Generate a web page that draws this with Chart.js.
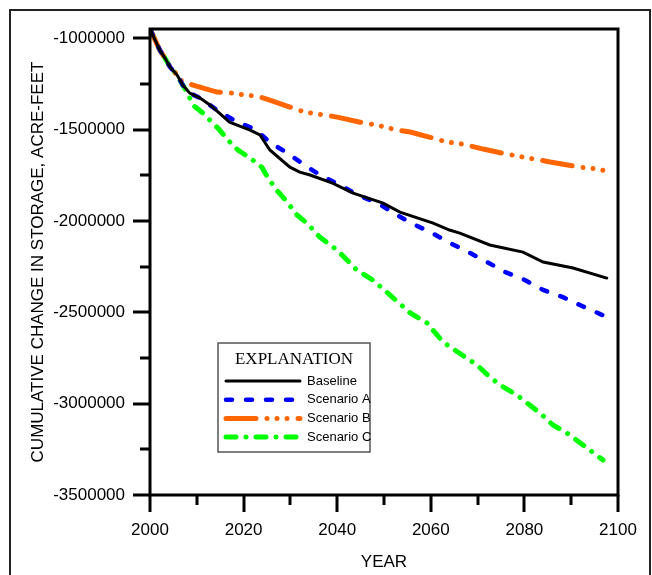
<!DOCTYPE html>
<html>
<head>
<meta charset="utf-8">
<script src="https://cdn.jsdelivr.net/npm/chart.js@4.4.1/dist/chart.umd.min.js"></script>
<style>
    html, body { margin: 0; padding: 0; background: #fff; }
    #wrap { width: 652px; height: 575px; }
</style>
</head>
<body>
<div id="wrap"><canvas id="chart" width="652" height="575"></canvas></div>
<script>
// Values (year, acre-feet)
const baselineYears = [2000, 2001.1, 2002.1, 2003.2, 2004.3, 2005.8, 2007, 2008.5, 2010.7, 2012.8, 2013.5, 2015, 2017, 2021.4, 2023.5, 2025.6, 2029.9, 2032, 2034.2, 2039, 2043.4, 2049.8, 2053.4, 2060.5, 2064, 2066.2, 2072.6, 2079.7, 2084, 2090.4, 2097.6];
const baselineValues = [-950000, -1011000, -1066000, -1109000, -1159000, -1202000, -1257000, -1301000, -1328000, -1366000, -1380000, -1415000, -1460000, -1503000, -1530000, -1612000, -1706000, -1733000, -1749000, -1793000, -1848000, -1903000, -1952000, -2012000, -2050000, -2067000, -2132000, -2171000, -2225000, -2258000, -2313000];

const scenarioAYears = [2000, 2001.1, 2002.1, 2003.2, 2004.3, 2005.8, 2007, 2008.5, 2010.7, 2014.3, 2018.6, 2022.4, 2025.6, 2029.3, 2033.1, 2036.3, 2040.6, 2044.4, 2048.7, 2052.4, 2056.2, 2060.3, 2064.1, 2068.4, 2072, 2075.9, 2080.1, 2084, 2088.2, 2092.3, 2096.2, 2097.6];
const scenarioAValues = [-950000, -1011000, -1066000, -1109000, -1159000, -1202000, -1257000, -1301000, -1328000, -1394000, -1459000, -1498000, -1569000, -1629000, -1695000, -1749000, -1804000, -1859000, -1903000, -1963000, -2017000, -2067000, -2121000, -2176000, -2225000, -2280000, -2324000, -2378000, -2417000, -2466000, -2510000, -2526000];

const scenarioBYears = [2000, 2001.1, 2002.1, 2003.2, 2004.3, 2005.8, 2006.4, 2009.2, 2014.3, 2017.7, 2020.3, 2022.9, 2025.6, 2029.9, 2033.1, 2037.4, 2040, 2044.9, 2048.5, 2052.8, 2055.6, 2060.5, 2063.5, 2065.6, 2067.7, 2071.2, 2076.3, 2080.8, 2083.3, 2085.5, 2091.9, 2094, 2096.6, 2097.6];
const scenarioBValues = [-950000, -1011000, -1066000, -1109000, -1159000, -1202000, -1230000, -1257000, -1295000, -1301000, -1312000, -1317000, -1339000, -1377000, -1405000, -1421000, -1432000, -1460000, -1476000, -1503000, -1514000, -1547000, -1569000, -1574000, -1585000, -1607000, -1635000, -1656000, -1667000, -1678000, -1706000, -1711000, -1722000, -1727000];

const scenarioCYears = [2000, 2001.1, 2002.1, 2003.2, 2004.3, 2005.8, 2007, 2007.9, 2009.2, 2011.3, 2014.5, 2016.7, 2018.8, 2021.4, 2023.9, 2024.6, 2026.7, 2029.3, 2031.4, 2033.5, 2036.3, 2040, 2044.2, 2047.6, 2051.3, 2055.6, 2059.2, 2062.6, 2066.7, 2069.9, 2072.6, 2074.8, 2078.4, 2083.3, 2086.1, 2089.1, 2093.4, 2096.8];
const scenarioCValues = [-950000, -1011000, -1066000, -1109000, -1159000, -1202000, -1257000, -1295000, -1367000, -1410000, -1492000, -1558000, -1613000, -1656000, -1706000, -1738000, -1821000, -1897000, -1968000, -2012000, -2089000, -2160000, -2269000, -2324000, -2406000, -2504000, -2559000, -2663000, -2734000, -2789000, -2854000, -2898000, -2953000, -3051000, -3117000, -3161000, -3243000, -3309000];

const xMajorTicks = [2000, 2020, 2040, 2060, 2080, 2100];
const xMinorTicks = [2010, 2030, 2050, 2070, 2090];
const yMajorTicks = [-1000000, -1500000, -2000000, -2500000, -3000000, -3500000];
const yMinorTicks = [-1250000, -1750000, -2250000, -2750000, -3250000];

const legendTitle = 'EXPLANATION';

function points(xs, ys) {
    return xs.map((x, i) => ({ x, y: ys[i] }));
}

const FONT = 'Liberation Sans, Arial, sans-serif';

const framePlugin = {
    id: 'frame',
    afterDraw(chart) {
        const { ctx, chartArea: a } = chart;
        const xs = chart.scales.x;
        const ys = chart.scales.y;
        ctx.save();

        // outer figure border
        ctx.strokeStyle = '#222';
        ctx.lineWidth = 2;
        ctx.strokeRect(10, 10, 640, 580);

        // plot frame
        ctx.strokeStyle = '#000';
        ctx.lineWidth = 3;
        ctx.strokeRect(a.left, a.top, a.right - a.left, a.bottom - a.top);

        // tick marks, outward
        ctx.beginPath();
        yMajorTicks.forEach((v) => {
            const p = Math.round(ys.getPixelForValue(v));
            ctx.moveTo(a.left - 17, p);
            ctx.lineTo(a.left, p);
        });
        yMinorTicks.forEach((v) => {
            const p = Math.round(ys.getPixelForValue(v));
            ctx.moveTo(a.left - 10, p);
            ctx.lineTo(a.left, p);
        });
        xMajorTicks.forEach((v) => {
            const p = Math.round(xs.getPixelForValue(v));
            ctx.moveTo(p, a.bottom);
            ctx.lineTo(p, a.bottom + 17);
        });
        xMinorTicks.forEach((v) => {
            const p = Math.round(xs.getPixelForValue(v));
            ctx.moveTo(p, a.bottom);
            ctx.lineTo(p, a.bottom + 10);
        });
        ctx.stroke();

        // legend box
        const bx = 218, by = 343, bw = 152, bh = 109;
        ctx.fillStyle = '#fff';
        ctx.fillRect(bx, by, bw, bh);
        ctx.strokeStyle = '#555';
        ctx.lineWidth = 1.5;
        ctx.strokeRect(bx, by, bw, bh);

        ctx.fillStyle = '#000';
        ctx.font = '17px "Liberation Serif", "Times New Roman", serif';
        ctx.textAlign = 'center';
        ctx.textBaseline = 'middle';
        ctx.fillText(legendTitle, bx + bw / 2, by + 17);

        ctx.font = '13px ' + FONT;
        ctx.textAlign = 'left';
        chart.data.datasets.forEach((ds, i) => {
            const y = by + 38 + i * 18.7;
            ctx.save();
            ctx.strokeStyle = ds.borderColor;
            ctx.lineWidth = ds.borderWidth;
            ctx.lineCap = ds.borderCapStyle || 'butt';
            ctx.setLineDash(ds.borderDash || []);
            ctx.beginPath();
            ctx.moveTo(bx + 8, y);
            ctx.lineTo(bx + 82, y);
            ctx.stroke();
            ctx.restore();
            ctx.fillStyle = '#000';
            ctx.fillText(ds.label, bx + 89, y);
        });
        ctx.restore();
    },
};

new Chart(document.getElementById('chart'), {
    type: 'line',
    data: {
        datasets: [
            {
                label: 'Baseline',
                data: points(baselineYears, baselineValues),
                borderColor: '#000000',
                borderWidth: 3,
                borderCapStyle: 'round',
            },
            {
                label: 'Scenario A',
                data: points(scenarioAYears, scenarioAValues),
                borderColor: '#0000ff',
                borderWidth: 4.5,
                borderCapStyle: 'round',
                borderDash: [6, 14],
            },
            {
                label: 'Scenario B',
                data: points(scenarioBYears, scenarioBValues),
                borderColor: '#ff6600',
                borderWidth: 5,
                borderCapStyle: 'round',
                borderDash: [30, 11, 0.01, 10, 0.01, 10, 0.01, 11],
            },
            {
                label: 'Scenario C',
                data: points(scenarioCYears, scenarioCValues),
                borderColor: '#00ff00',
                borderWidth: 5,
                borderCapStyle: 'round',
                borderDash: [10, 10, 0.01, 10],
            },
        ],
    },
    options: {
        responsive: false,
        animation: false,
        events: [],
        layout: { padding: { left: 0, top: 29, right: 34, bottom: 0 } },
        elements: {
            point: { radius: 0 },
            line: { tension: 0, fill: false },
        },
        plugins: {
            legend: { display: false },
            tooltip: { enabled: false },
        },
        scales: {
            x: {
                type: 'linear',
                min: 2000,
                max: 2100,
                afterFit(scale) { scale.height = 80; },
                afterBuildTicks(scale) { scale.ticks = xMajorTicks.map((value) => ({ value })); },
                grid: { display: true, drawOnChartArea: false, drawTicks: true, tickLength: 12, tickColor: 'rgba(0,0,0,0)', color: 'rgba(0,0,0,0)' },
                border: { display: false },
                ticks: {
                    color: '#000',
                    padding: 13,
                    maxRotation: 0,
                    font: { family: FONT, size: 17 },
                    callback: (v) => String(v),
                },
                title: {
                    display: true,
                    text: 'YEAR',
                    color: '#000',
                    font: { family: FONT, size: 17 },
                    padding: { top: 0, bottom: 2 },
                },
            },
            y: {
                type: 'linear',
                min: -3500000,
                max: -950000,
                afterFit(scale) { scale.width = 150; },
                afterBuildTicks(scale) { scale.ticks = yMajorTicks.map((value) => ({ value })); },
                grid: { display: true, drawOnChartArea: false, drawTicks: true, tickLength: 12, tickColor: 'rgba(0,0,0,0)', color: 'rgba(0,0,0,0)' },
                border: { display: false },
                ticks: {
                    color: '#000',
                    padding: 13,
                    font: { family: FONT, size: 17 },
                    callback: (v) => String(v),
                },
                title: {
                    display: true,
                    text: 'CUMULATIVE CHANGE IN STORAGE, ACRE-FEET',
                    color: '#000',
                    font: { family: FONT, size: 17 },
                    padding: { top: 28, bottom: 0 },
                },
            },
        },
    },
    plugins: [framePlugin],
});
</script>
</body>
</html>
